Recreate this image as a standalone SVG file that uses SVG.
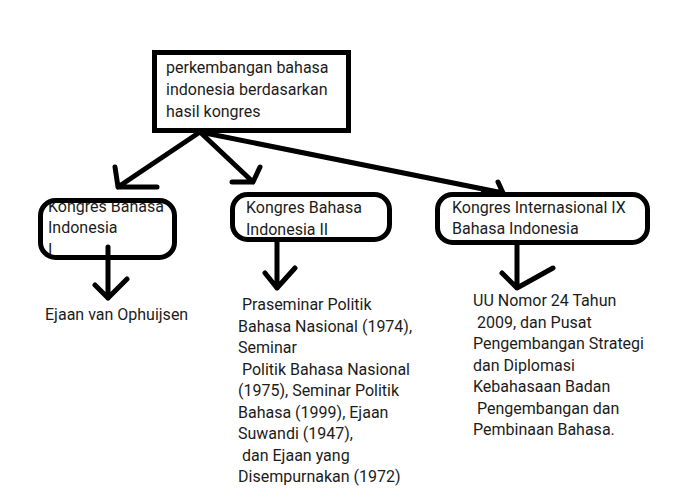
<svg xmlns="http://www.w3.org/2000/svg" width="678" height="504" viewBox="0 0 678 504">
<style>
.t{font-family:Roboto,"Open Sans","Liberation Sans",sans-serif;font-size:16px;fill:#1c1c1c}
.box{fill:none;stroke:#000;stroke-width:5}
.ln{fill:none;stroke:#000;stroke-width:5;stroke-linecap:round;stroke-linejoin:round}
</style>
<rect width="678" height="504" fill="#fff"/>
<g id="connectors">
<path class="ln" d="M200,132 L118,187 M115,167 L118,187 L157,187"/>
<path class="ln" d="M200,132 L253,182 M260,167 L253,182 L232,182"/>
<path class="ln" d="M200,132 L503,193 M498,182 L503,193 L483,193"/>
<path class="ln" d="M108,247 L108,298 M95,285 L108,298 L127,279"/>
<path class="ln" d="M277,242 L277,288 M265,273 L277,288 L295,268"/>
<path class="ln" d="M517,245 L517,288 M502,273 L517,288 L553,268"/>
</g>
<g id="root">
<rect class="box" x="154.5" y="52.5" width="194" height="78"/>
<text class="t" x="166" y="73">perkembangan bahasa</text>
<text class="t" x="166" y="95">indonesia berdasarkan</text>
<text class="t" x="166" y="117">hasil kongres</text>
</g>
<g id="kongres1">
<text class="t" x="48" y="212">Kongres Bahasa</text>
<text class="t" x="48" y="233">Indonesia</text>
<text class="t" x="48" y="255">I</text>
<rect class="box" x="40.5" y="200.5" width="134" height="57" rx="15"/>
</g>
<g id="kongres2">
<rect class="box" x="232.5" y="194.5" width="157" height="45" rx="15"/>
<text class="t" x="246" y="213">Kongres Bahasa</text>
<text class="t" x="246" y="235">Indonesia II</text>
</g>
<g id="kongres3">
<rect class="box" x="437.5" y="194.5" width="210" height="48" rx="15"/>
<text class="t" x="452" y="213">Kongres Internasional IX</text>
<text class="t" x="452" y="234">Bahasa Indonesia</text>
</g>
<g id="hasil1">
<text class="t" x="45" y="320">Ejaan van Ophuijsen</text>
</g>
<g id="hasil2">
<text class="t" x="238" y="310" xml:space="preserve"> Praseminar Politik</text>
<text class="t" x="238" y="331.5">Bahasa Nasional (1974),</text>
<text class="t" x="238" y="353">Seminar</text>
<text class="t" x="238" y="374.5" xml:space="preserve"> Politik Bahasa Nasional</text>
<text class="t" x="238" y="396">(1975), Seminar Politik</text>
<text class="t" x="238" y="417.5">Bahasa (1999), Ejaan</text>
<text class="t" x="238" y="439">Suwandi (1947),</text>
<text class="t" x="238" y="460.5" xml:space="preserve"> dan Ejaan yang</text>
<text class="t" x="238" y="482">Disempurnakan (1972)</text>
</g>
<g id="hasil3">
<text class="t" x="473" y="306">UU Nomor 24 Tahun</text>
<text class="t" x="473" y="327.5" xml:space="preserve"> 2009, dan Pusat</text>
<text class="t" x="473" y="349">Pengembangan Strategi</text>
<text class="t" x="473" y="370.5">dan Diplomasi</text>
<text class="t" x="473" y="392">Kebahasaan Badan</text>
<text class="t" x="473" y="413.5" xml:space="preserve"> Pengembangan dan</text>
<text class="t" x="473" y="435">Pembinaan Bahasa.</text>
</g>
</svg>
